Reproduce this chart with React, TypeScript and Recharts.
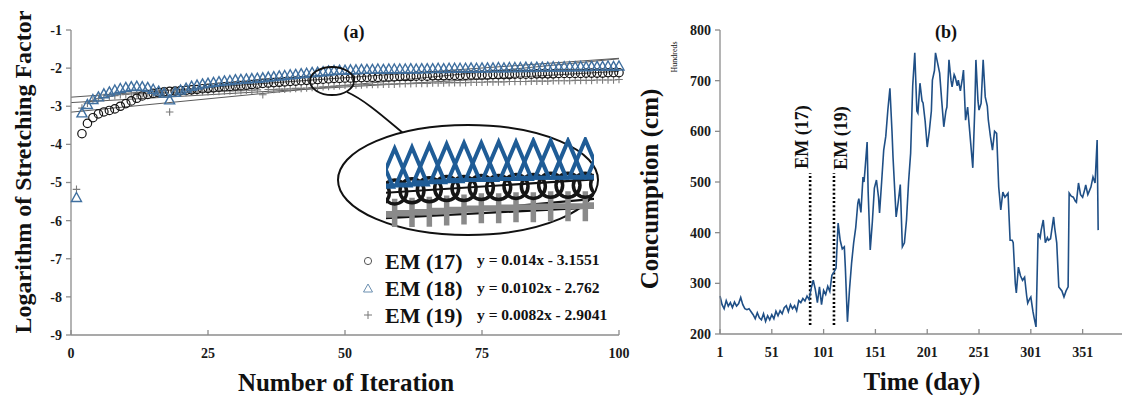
import React from 'react';
import { ScatterChart, Scatter, LineChart, Line, XAxis, YAxis, ReferenceLine } from 'recharts';

// ---- panel (a): logarithm of stretching factor per iteration ----
const iterations = Array.from({ length: 100 }, (_, i) => i + 1);

const em17 = [
  null, -3.72, -3.45, -3.3, -3.2, -3.15, -3.11, -3.07, -3.0, -2.93,
  -2.86, -2.79, -2.73, -2.69, -2.66, -2.64, -2.62, -2.61, -2.6, -2.59,
  -2.58, -2.57, -2.56, -2.54, -2.53, -2.52, -2.5, -2.49, -2.48, -2.47,
  -2.46, -2.45, -2.43, -2.42, -2.4, -2.39, -2.38, -2.37, -2.36, -2.35,
  -2.34, -2.33, -2.32, -2.31, -2.3, -2.29, -2.28, -2.27, -2.27, -2.26,
  -2.26, -2.25, -2.25, -2.24, -2.24, -2.24, -2.23, -2.23, -2.23, -2.22,
  -2.22, -2.22, -2.21, -2.21, -2.21, -2.2, -2.2, -2.2, -2.19, -2.19,
  -2.19, -2.19, -2.18, -2.18, -2.18, -2.18, -2.17, -2.17, -2.17, -2.17,
  -2.16, -2.16, -2.16, -2.16, -2.15, -2.15, -2.15, -2.15, -2.14, -2.14,
  -2.14, -2.14, -2.14, -2.13, -2.13, -2.13, -2.13, -2.12, -2.12, -2.12,
];

const em18 = [
  -5.42, -3.2, -2.98, -2.85, -2.78, -2.7, -2.65, -2.6, -2.56, -2.53,
  -2.51, -2.5, -2.51, -2.53, -2.58, -2.63, -2.68, -2.86, -2.66, -2.6,
  -2.55, -2.5, -2.47, -2.44, -2.42, -2.4, -2.38, -2.36, -2.35, -2.33,
  -2.32, -2.31, -2.3, -2.29, -2.28, -2.26, -2.25, -2.23, -2.22, -2.2,
  -2.19, -2.17, -2.16, -2.14, -2.13, -2.12, -2.1, -2.09, -2.08, -2.08,
  -2.07, -2.07, -2.06, -2.06, -2.06, -2.05, -2.06, -2.05, -2.05, -2.05,
  -2.05, -2.04, -2.05, -2.04, -2.04, -2.04, -2.03, -2.04, -2.03, -2.03,
  -2.03, -2.03, -2.02, -2.03, -2.02, -2.02, -2.02, -2.01, -2.02, -2.01,
  -2.01, -2.01, -2.0, -2.01, -2.0, -2.0, -2.0, -1.99, -2.0, -1.99,
  -1.99, -1.99, -1.98, -1.99, -1.98, -1.98, -1.98, -1.97, -1.98, -1.97,
];

const em19 = [
  -5.18, -3.05, -2.92, -2.85, -2.8, -2.77, -2.74, -2.72, -2.7, -2.69,
  -2.68, -2.67, -2.67, -2.66, -2.66, -2.65, -2.65, -3.15, -2.65, -2.64,
  -2.64, -2.63, -2.63, -2.62, -2.62, -2.61, -2.61, -2.6, -2.6, -2.59,
  -2.59, -2.58, -2.58, -2.57, -2.7, -2.56, -2.56, -2.55, -2.55, -2.54,
  -2.53, -2.53, -2.52, -2.51, -2.5, -2.49, -2.48, -2.47, -2.46, -2.45,
  -2.45, -2.44, -2.44, -2.43, -2.43, -2.43, -2.42, -2.42, -2.42, -2.41,
  -2.41, -2.41, -2.4, -2.4, -2.4, -2.39, -2.39, -2.39, -2.38, -2.38,
  -2.38, -2.38, -2.37, -2.37, -2.37, -2.36, -2.36, -2.36, -2.36, -2.35,
  -2.35, -2.35, -2.35, -2.34, -2.34, -2.34, -2.34, -2.33, -2.33, -2.33,
  -2.33, -2.32, -2.32, -2.32, -2.32, -2.31, -2.31, -2.31, -2.31, -2.3,
];

// trend lines from the printed equations, evaluated at x = 0 and x = 100
const trendNames = ['EM (17)', 'EM (18)', 'EM (19)'];
const trendEquations = ['y = 0.014x - 3.1551', 'y = 0.0102x - 2.762', 'y = 0.0082x - 2.9041'];
const trendStart = [-3.155, -2.762, -2.904];
const trendEnd = [-1.755, -1.742, -2.084];

const aXTicks = [0, 25, 50, 75, 100];
const aYTicks = [-9, -8, -7, -6, -5, -4, -3, -2, -1];

// ---- panel (b): daily consumption (hundreds of cm) ----
const days = [
  1, 3, 5, 7, 9, 11, 13, 15, 17, 19, 21, 23, 25, 27, 29, 31, 33, 35, 37, 39,
  41, 43, 45, 47, 49, 51, 53, 55, 57, 59, 61, 63, 65, 67, 69, 71, 73, 75, 77, 79,
  81, 83, 85, 87, 89, 91, 93, 95, 97, 99, 101, 103, 105, 107, 109, 111, 113, 115, 117, 119,
  121, 122, 124, 126, 128, 130, 132, 134, 135, 137, 139, 140, 141, 143, 144, 146, 148, 150, 152, 154,
  155, 157, 159, 161, 163, 165, 167, 168, 170, 171, 173, 175, 177, 179, 181, 183, 185, 187, 189, 191,
  192, 194, 196, 197, 199, 201, 203, 205, 206, 208, 209, 211, 213, 215, 217, 219, 220, 222, 224, 225,
  227, 228, 230, 231, 233, 235, 236, 238, 240, 242, 245, 247, 248, 250, 251, 253, 255, 257, 259, 260,
  262, 264, 266, 268, 270, 272, 274, 276, 279, 281, 283, 284, 286, 287, 289, 291, 293, 295, 297, 298,
  300, 301, 303, 304, 306, 308, 310, 311, 313, 315, 317, 318, 320, 323, 324, 326, 328, 331, 333, 335,
  337, 338, 340, 342, 344, 345, 347, 349, 351, 353, 354, 356, 357, 359, 361, 363, 365, 366,
];
const consumption = [
  275, 258, 250, 266, 255, 262, 252, 263, 255, 260, 272, 258, 250, 248, 250, 244, 238, 230, 242, 232,
  228, 240, 225, 236, 228, 238, 230, 245, 236, 246, 240, 252, 256, 244, 258, 250, 256, 246, 266, 262,
  270, 265, 275, 268, 290, 306, 288, 262, 293, 258, 286, 278, 294, 284, 316, 322, 330, 419, 385, 368,
  372, 330, 224, 288, 340, 380, 410, 458, 467, 440, 510, 500, 525, 579, 480, 366, 420, 488, 504, 470,
  439, 500, 563, 590, 642, 685, 600, 549, 470, 431, 460, 495, 372, 380, 425, 500, 557, 690, 755, 640,
  636, 695, 660, 656, 620, 569, 600, 640, 701, 720, 755, 735, 715, 660, 609, 640, 648, 741, 700, 688,
  712, 707, 690, 701, 680, 705, 721, 622, 648, 600, 528, 650, 741, 660, 642, 655, 741, 668, 650, 622,
  590, 563, 600, 596, 490, 445, 480, 470, 478, 385, 385, 380, 300, 281, 332, 315, 306, 312, 275, 261,
  270, 273, 245, 234, 214, 399, 390, 405, 425, 380, 390, 385, 388, 431, 410, 380, 293, 285, 273, 285,
  293, 478, 472, 470, 462, 460, 498, 475, 470, 485, 494, 475, 480, 490, 510, 498, 583, 405,
];
const eventNames = ['EM (17)', 'EM (19)'];
const eventDays = [88, 111];

const bXTicks = [1, 51, 101, 151, 201, 251, 301, 351];
const bYTicks = [200, 300, 400, 500, 600, 700, 800];

const toPoints = (vals: (number | null)[]) =>
  vals
    .map((v, i) => ({ x: iterations[i], y: v }))
    .filter((p) => p.y !== null) as { x: number; y: number }[];

const pts17 = toPoints(em17);
const pts18 = toPoints(em18);
const pts19 = toPoints(em19);
const lineData = days.map((d, i) => ({ day: d, value: consumption[i] }));

const SERIF = '"Liberation Serif", "DejaVu Serif", serif';
const AXIS = '#8c8c8c';
const BLUE = '#3f6f9f';
const tickStyle = { fontFamily: SERIF, fontWeight: 700, fontSize: 14, fill: '#1a1a1a' };

const circleShape = (r: number, w: number) => (p: any) =>
  <circle cx={p.cx} cy={p.cy} r={r} fill="none" stroke="#151515" strokeWidth={w} />;
const triShape = (h: number, hw: number, w: number, color: string) => (p: any) => {
  const { cx, cy } = p;
  return (
    <path
      d={`M${cx},${cy - (h * 2) / 3} L${cx + hw},${cy + h / 3} L${cx - hw},${cy + h / 3} Z`}
      fill="none"
      stroke={color}
      strokeWidth={w}
      strokeLinejoin="miter"
    />
  );
};
const plusShape = (s: number, w: number, color: string) => (p: any) => {
  const { cx, cy } = p;
  return (
    <path d={`M${cx - s},${cy} H${cx + s} M${cx},${cy - s} V${cy + s}`} stroke={color} strokeWidth={w} fill="none" />
  );
};

const insetPts = (pts: { x: number; y: number }[]) => pts.filter((p) => p.x >= 42 && p.x <= 59);

const App: React.FC = () => {
  return (
    <div style={{ position: 'absolute', left: 0, top: 0, width: 1124, height: 395, background: '#fff', overflow: 'hidden' }}>
      {/* panel (a) */}
      <div style={{ position: 'absolute', left: 0, top: 0 }}>
        <ScatterChart width={640} height={395} margin={{ top: 30, right: 21, bottom: 30, left: 31 }}>
          <XAxis
            type="number"
            dataKey="x"
            domain={[0, 100]}
            ticks={aXTicks}
            height={30}
            stroke={AXIS}
            strokeWidth={1.3}
            tick={tickStyle}
            tickSize={5}
            tickMargin={8}
            tickLine={{ transform: 'translate(0,-5)' } as any}
          />
          <YAxis
            type="number"
            dataKey="y"
            domain={[-9, -1]}
            ticks={aYTicks}
            width={40}
            stroke={AXIS}
            strokeWidth={1.3}
            tick={tickStyle}
            tickSize={5}
            tickMargin={4}
          />
          <Scatter data={pts19} shape={plusShape(3.8, 1.1, '#7a7a7a')} isAnimationActive={false} />
          <Scatter data={pts17} shape={circleShape(4.2, 1.2)} isAnimationActive={false} />
          <Scatter data={pts18} shape={triShape(9, 5, 1.4, BLUE)} isAnimationActive={false} />
          {trendStart.map((s, i) => (
            <ReferenceLine
              key={i}
              segment={[{ x: 0, y: s }, { x: 100, y: trendEnd[i] }]}
              stroke="#5a5a5a"
              strokeWidth={1}
              ifOverflow="visible"
            />
          ))}
        </ScatterChart>
      </div>

      {/* panel (b) */}
      <div style={{ position: 'absolute', left: 620, top: 0 }}>
        <LineChart width={504} height={395} data={lineData} margin={{ top: 30, right: 2, bottom: 31, left: 55 }}>
          <XAxis
            type="number"
            dataKey="day"
            domain={[1, 389]}
            ticks={bXTicks}
            height={30}
            stroke={AXIS}
            strokeWidth={1.3}
            tick={tickStyle}
            tickSize={5}
            tickMargin={8}
            tickLine={{ transform: 'translate(0,-5)' } as any}
          />
          <YAxis
            type="number"
            domain={[200, 800]}
            ticks={bYTicks}
            width={45}
            stroke={AXIS}
            strokeWidth={1.3}
            tick={tickStyle}
            tickSize={5}
            tickMargin={4}
          />
          {eventDays.map((d) => (
            <ReferenceLine
              key={d}
              segment={[{ x: d, y: 218 }, { x: d, y: 518 }]}
              stroke="#000"
              strokeWidth={2.6}
              strokeDasharray="2 2.2"
            />
          ))}
          <Line type="linear" dataKey="value" stroke="#1f4f86" strokeWidth={1.6} dot={false} isAnimationActive={false} />
        </LineChart>
      </div>

      {/* annotations */}
      <svg width={1124} height={395} style={{ position: 'absolute', left: 0, top: 0, pointerEvents: 'none' }}>
        <g fontFamily={SERIF} fontWeight={700} fill="#111">
          <text x={31} y={172} fontSize={24} textAnchor="middle" transform="rotate(-90 31 172)">
            Logarithm of Stretching Factor
          </text>
          <text x={346} y={391} fontSize={25} textAnchor="middle">Number of Iteration</text>
          <text x={354} y={38} fontSize={18} textAnchor="middle">(a)</text>
          <text x={946} y={38} fontSize={18} textAnchor="middle">(b)</text>
          <text x={922} y={390} fontSize={25} textAnchor="middle">Time (day)</text>
          <text x={658} y={189} fontSize={25} textAnchor="middle" transform="rotate(-90 658 189)">
            Concumption (cm)
          </text>
          <text x={677} y={57} fontSize={8} fontWeight={400} textAnchor="middle" transform="rotate(-90 677 57)">
            Hundreds
          </text>
          <text x={808} y={137} fontSize={18} textAnchor="middle" transform="rotate(-90 808 137)">
            {eventNames[0]}
          </text>
          <text x={847} y={138} fontSize={18} textAnchor="middle" transform="rotate(-90 847 138)">
            {eventNames[1]}
          </text>
        </g>

        {/* magnifier */}
        <ellipse cx={332} cy={81} rx={22} ry={14} fill="none" stroke="#111" strokeWidth={1.8} />
        <path d="M347,92 C365,100 385,118 403,133" fill="none" stroke="#111" strokeWidth={1.8} />
        <ellipse cx={468} cy={180} rx={130} ry={55} fill="#fff" stroke="#111" strokeWidth={2} />

        {/* legend */}
        <g fontFamily={SERIF} fontWeight={700} fill="#111">
          <circle cx={368} cy={261} r={3.6} fill="none" stroke="#555" strokeWidth={1} />
          <path d="M368,284 L372.5,292 L363.5,292 Z" fill="none" stroke="#6b8fb0" strokeWidth={1} />
          <path d="M364,315 H372 M368,311 V319" stroke="#777" strokeWidth={1} />
          {trendNames.map((n, i) => (
            <text key={n} x={385} y={269 + i * 27} fontSize={22}>{n}</text>
          ))}
          {trendEquations.map((e, i) => (
            <text key={e} x={477} y={265 + i * 27.5} fontSize={15.5}>{e}</text>
          ))}
        </g>
      </svg>

      {/* zoomed inset */}
      <div style={{ position: 'absolute', left: 386, top: 137, width: 208, height: 90, overflow: 'hidden' }}>
        <ScatterChart width={208} height={90} margin={{ top: 0, right: 0, bottom: 0, left: 0 }}>
          <XAxis type="number" dataKey="x" domain={[44.5, 56.5]} allowDataOverflow hide />
          <YAxis type="number" dataKey="y" domain={[-2.62, -1.8]} allowDataOverflow hide />
          <Scatter data={insetPts(pts19)} shape={plusShape(15, 5.5, '#8a8a8a')} isAnimationActive={false} />
          <Scatter data={insetPts(pts17)} shape={circleShape(12, 3.5)} isAnimationActive={false} />
          <Scatter data={insetPts(pts18)} shape={triShape(37, 15.7, 4, '#1f5c96')} isAnimationActive={false} />
          {trendStart.map((s, i) => (
            <ReferenceLine
              key={i}
              segment={[{ x: 0, y: s }, { x: 100, y: trendEnd[i] }]}
              stroke="#111"
              strokeWidth={2.2}
              ifOverflow="visible"
            />
          ))}
        </ScatterChart>
      </div>
    </div>
  );
};

export default App;
